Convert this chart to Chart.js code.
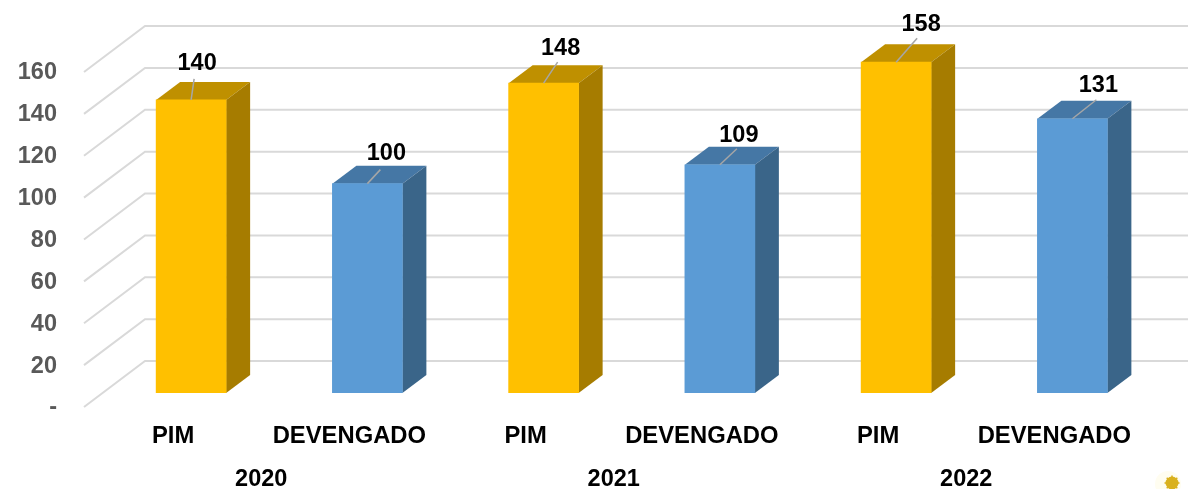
<!DOCTYPE html>
<html lang="es">
<head>
    <meta charset="UTF-8">
    <title>PIM y Devengado 2020-2022</title>
    <style>
        html, body { margin: 0; padding: 0; background: #fff; }
        canvas { display: block; }
    </style>
    <script src="https://cdn.jsdelivr.net/npm/chart.js"></script>
</head>
<body>
    <canvas id="chart" width="1188" height="489"></canvas>
    <script>
        // Data
        const categories = ['PIM', 'DEVENGADO', 'PIM', 'DEVENGADO', 'PIM', 'DEVENGADO'];
        const years = ['2020', '2021', '2022'];
        const values = [140, 100, 148, 109, 158, 131];
        const yTicks = [0, 20, 40, 60, 80, 100, 120, 140, 160];

        // Style
        const FONT = '"Liberation Sans", Arial, sans-serif';
        const FRONT = ['#FFC000', '#5B9BD5'];
        const TOP = ['#BF9000', '#4577A5'];
        const SIDE = ['#A67C00', '#3A6589'];
        const DEPTH_X = 24, DEPTH_Y = 18;

        // where each label and its leader line sit, relative to the top of the bar
        const labelOffsets = [[6, -36], [19, -30], [17, -35], [19, -29], [25, -38], [26, -33]];
        const leaderEnds = [[3, -21], [13, -14], [14, -21], [17, -16], [21, -24], [24, -19]];

        function poly(ctx, pts, color) {
            ctx.fillStyle = color;
            ctx.beginPath();
            pts.forEach((p, i) => i ? ctx.lineTo(p[0], p[1]) : ctx.moveTo(p[0], p[1]));
            ctx.closePath();
            ctx.fill();
        }

        // Back wall and floor-side lines of the fake 3D grid
        const gridPlugin = {
            id: 'grid3d',
            beforeDatasetsDraw(chart) {
                const ctx = chart.ctx, y = chart.scales.y;
                ctx.save();
                ctx.strokeStyle = '#D9D9D9';
                ctx.lineWidth = 2;
                yTicks.forEach(v => {
                    const py = y.getPixelForValue(v);
                    ctx.beginPath();
                    ctx.moveTo(84, py + 14);
                    ctx.lineTo(145, py - 32);
                    ctx.lineTo(1188, py - 32);
                    ctx.stroke();
                });
                ctx.restore();
            }
        };

        // Top and side faces of the bars, then leader lines and value labels
        const barsPlugin = {
            id: 'bars3d',
            beforeDatasetsDraw(chart) {
                const ctx = chart.ctx;
                chart.getDatasetMeta(0).data.forEach((bar, i) => {
                    const l = bar.x - bar.width / 2, r = bar.x + bar.width / 2;
                    const c = i % 2;
                    poly(ctx, [[l, bar.y], [l + DEPTH_X, bar.y - DEPTH_Y], [r + DEPTH_X, bar.y - DEPTH_Y], [r, bar.y]], TOP[c]);
                    poly(ctx, [[r, bar.y], [r + DEPTH_X, bar.y - DEPTH_Y], [r + DEPTH_X, bar.base - DEPTH_Y], [r, bar.base]], SIDE[c]);
                });
            },
            afterDatasetsDraw(chart) {
                const ctx = chart.ctx;
                ctx.save();
                chart.getDatasetMeta(0).data.forEach((bar, i) => {
                    ctx.strokeStyle = '#A6A6A6';
                    ctx.lineWidth = 1.5;
                    ctx.beginPath();
                    ctx.moveTo(bar.x, bar.y);
                    ctx.lineTo(bar.x + leaderEnds[i][0], bar.y + leaderEnds[i][1]);
                    ctx.stroke();

                    ctx.fillStyle = '#000';
                    ctx.font = 'bold 23.5px ' + FONT;
                    ctx.textAlign = 'center';
                    ctx.textBaseline = 'middle';
                    ctx.fillText(values[i], bar.x + labelOffsets[i][0], bar.y + labelOffsets[i][1]);
                });
                ctx.restore();
            }
        };

        // The bit of logo in the bottom right corner of the original
        const cornerPlugin = {
            id: 'corner',
            afterDraw(chart) {
                const ctx = chart.ctx;
                ctx.save();
                ctx.fillStyle = '#FFFDF0';
                ctx.beginPath();
                ctx.arc(1168, 484, 13, 0, Math.PI * 2);
                ctx.fill();
                ctx.fillStyle = '#D9B11E';
                ctx.beginPath();
                ctx.arc(1172, 483, 6.5, 0, Math.PI * 2);
                ctx.fill();
                ctx.strokeStyle = '#D9B11E';
                ctx.lineWidth = 1.5;
                for (let a = 0; a < 8; a++) {
                    ctx.beginPath();
                    ctx.moveTo(1172, 483);
                    ctx.lineTo(1172 + 7.5 * Math.cos(a * Math.PI / 4), 483 + 7.5 * Math.sin(a * Math.PI / 4));
                    ctx.stroke();
                }
                ctx.restore();
            }
        };

        new Chart(document.getElementById('chart'), {
            type: 'bar',
            data: {
                labels: categories,
                datasets: [{
                    data: values,
                    backgroundColor: categories.map((c, i) => FRONT[i % 2]),
                    barThickness: 70
                }]
            },
            options: {
                responsive: false,
                animation: false,
                layout: { padding: { top: 58, right: 27.5, left: 0, bottom: 0 } },
                plugins: { legend: { display: false }, tooltip: { enabled: false } },
                scales: {
                    y: {
                        min: 0,
                        max: 160,
                        afterFit(s) { s.width = 103; s.paddingTop = 0; s.paddingBottom = 0; },
                        afterBuildTicks(s) { s.ticks = yTicks.map(v => ({ value: v })); },
                        grid: { display: false },
                        border: { display: false },
                        ticks: {
                            padding: 38,
                            labelOffset: 15,
                            color: '#595959',
                            font: { family: FONT, size: 23.5, weight: 'bold' },
                            callback: v => v === 0 ? '-' : v
                        }
                    },
                    x: {
                        weight: 1,
                        afterFit(s) { s.height = 60; },
                        grid: { display: false },
                        border: { display: false },
                        ticks: {
                            padding: 21,
                            labelOffset: -18,
                            maxRotation: 0,
                            autoSkip: false,
                            color: '#000',
                            font: { family: FONT, size: 23.8, weight: 'bold' }
                        }
                    },
                    xYear: {
                        type: 'category',
                        position: 'bottom',
                        weight: 2,
                        labels: years,
                        offset: true,
                        afterFit(s) { s.height = 36; },
                        grid: { display: false },
                        border: { display: false },
                        ticks: {
                            padding: 4,
                            labelOffset: -18,
                            maxRotation: 0,
                            color: '#000',
                            font: { family: FONT, size: 23.5, weight: 'bold' }
                        }
                    }
                }
            },
            plugins: [gridPlugin, barsPlugin, cornerPlugin]
        });
    </script>
</body>
</html>
